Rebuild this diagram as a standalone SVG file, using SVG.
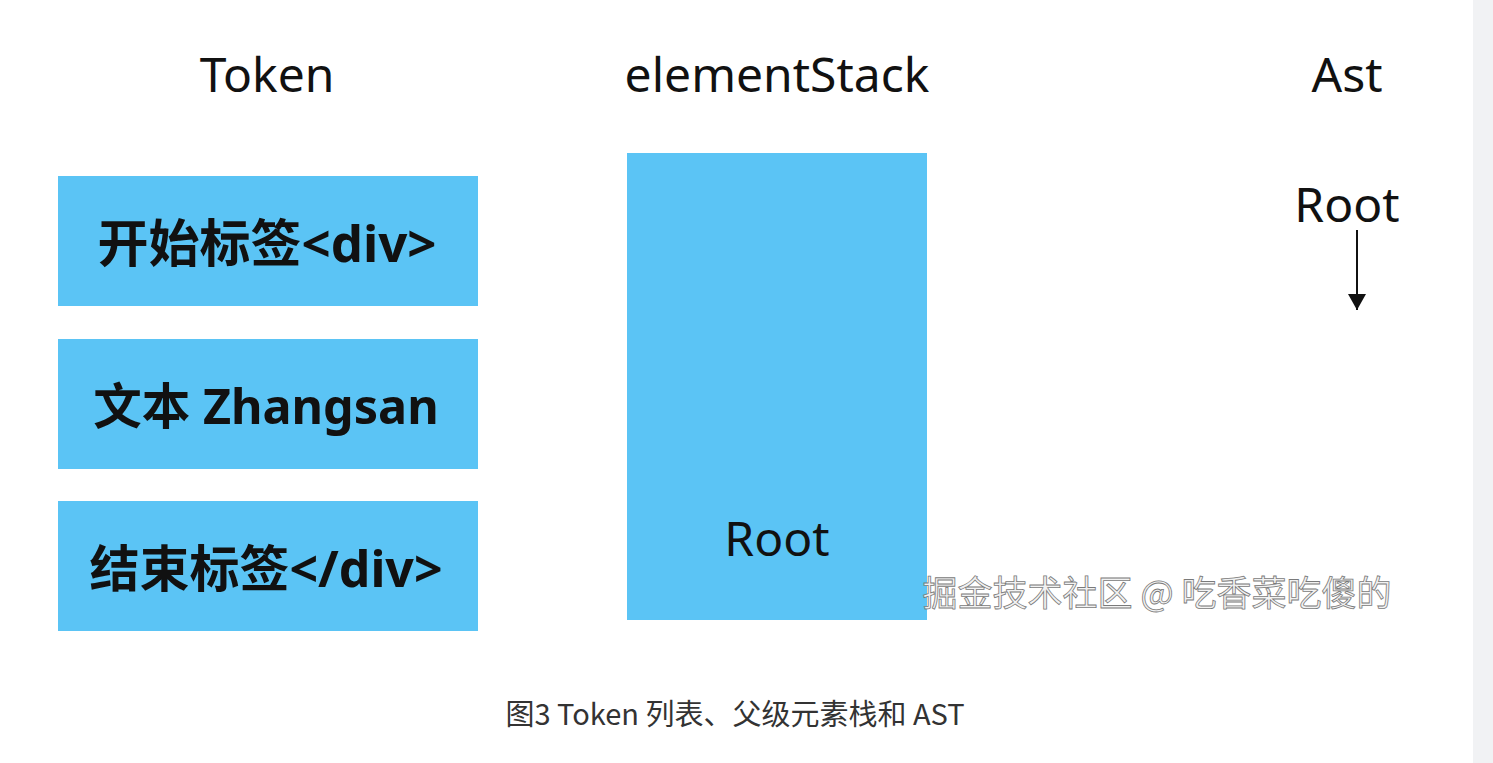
<svg xmlns="http://www.w3.org/2000/svg" width="1493" height="763" viewBox="0 0 1493 763">
<defs>
<style>
.bg{fill:#ffffff}
.strip{fill:#f1f2f4}
.box{fill:#5bc4f5}
.title{font-family:"Noto Sans","Liberation Sans","Noto Sans CJK SC",sans-serif;font-size:48px;fill:#111;text-anchor:middle}
.lbl{font-family:"Noto Sans","Liberation Sans","Noto Sans CJK SC",sans-serif;font-size:50px;font-weight:bold;fill:#111;text-anchor:middle}
.cap{font-family:"Noto Sans CJK SC","Noto Sans",sans-serif;font-size:29px;fill:#333;text-anchor:middle}
.wm{font-family:"Noto Sans CJK SC",sans-serif;font-size:35px;fill:#f2f2f2;stroke:#7a7a7a;stroke-width:0.8;text-anchor:middle}
.edge{stroke:#111;stroke-width:2;fill:none}
</style>
<marker id="arr" viewBox="0 0 16 18" refX="16" refY="9" markerWidth="16" markerHeight="18" markerUnits="userSpaceOnUse" orient="auto">
<path d="M0,0 L16,9 L0,18 z" fill="#111"/>
</marker>
</defs>
<rect class="bg" x="0" y="0" width="1493" height="763"/>
<rect class="strip" x="1473" y="0" width="20" height="763"/>
<g id="titles">
<text class="title" x="267" y="92">Token</text>
<text class="title" x="777" y="92">elementStack</text>
<text class="title" x="1347" y="92">Ast</text>
</g>
<g id="token-start">
<rect class="box" x="58" y="176" width="420" height="130"/>
<text class="lbl" x="267" y="262" style="font-size:51px">开始标签&lt;div&gt;</text>
</g>
<g id="token-text">
<rect class="box" x="58" y="339" width="420" height="130"/>
<text class="lbl" x="266" y="424" style="font-size:48.5px">文本 Zhangsan</text>
</g>
<g id="token-end">
<rect class="box" x="58" y="501" width="420" height="130"/>
<text class="lbl" x="266" y="587">结束标签&lt;/div&gt;</text>
</g>
<g id="stack">
<rect class="box" x="627" y="153" width="300" height="467"/>
<text class="title" x="777" y="556">Root</text>
</g>
<g id="ast-root">
<text class="title" x="1347" y="222">Root</text>
</g>
<g id="connectors">
<line class="edge" x1="1357" y1="230" x2="1357" y2="310" marker-end="url(#arr)"/>
</g>
<text class="wm" x="1157" y="606">掘金技术社区 @ 吃香菜吃傻的</text>
<text class="cap" x="735" y="725">图3 Token 列表、父级元素栈和 AST</text>
</svg>
